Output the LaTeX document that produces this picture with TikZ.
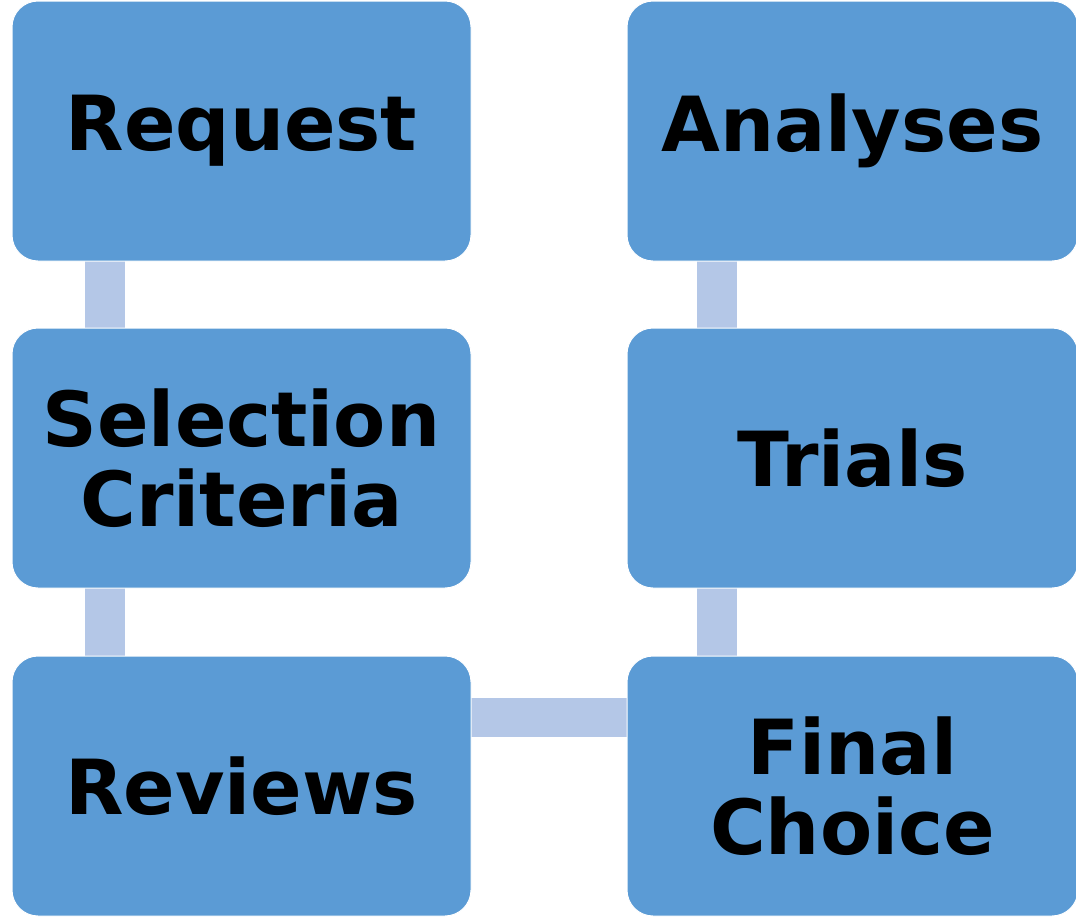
\documentclass[tikz,border=0pt]{standalone}
\usepackage{fontspec}
\setmainfont{DejaVu Sans}
\definecolor{boxblue}{HTML}{5B9BD5}
\definecolor{linkblue}{HTML}{B4C7E7}
\begin{document}
\begin{tikzpicture}[x=1pt,y=-1pt,
  stage/.style={fill=boxblue,draw=white,line width=1pt,rounded corners=26pt,minimum width=459pt,minimum height=260pt,inner sep=0pt,align=center,font=\fontsize{76}{80}\selectfont\bfseries,text=black},
  link/.style={fill=linkblue,draw=none}]
\useasboundingbox[fill=white] (0,0) rectangle (1076,916);
% connectors
\fill[linkblue] (85,258) rectangle (125,332);
\fill[linkblue] (85,586) rectangle (125,660);
\fill[linkblue] (697,258) rectangle (737,332);
\fill[linkblue] (697,586) rectangle (737,660);
\fill[linkblue] (468,698) rectangle (630,737);
\node[stage] (req) at (241.5,131) {Request};
\node[stage] (sel) at (241.5,458) {Selection\\Criteria};
\node[stage] (rev) at (241.5,786) {Reviews};
\node[stage,minimum width=451pt] (ana) at (852.5,131) {Analyses};
\node[stage,minimum width=451pt] (tri) at (852.5,458) {Trials};
\node[stage,minimum width=451pt] (fin) at (852.5,786) {Final\\Choice};
\end{tikzpicture}
\end{document}
